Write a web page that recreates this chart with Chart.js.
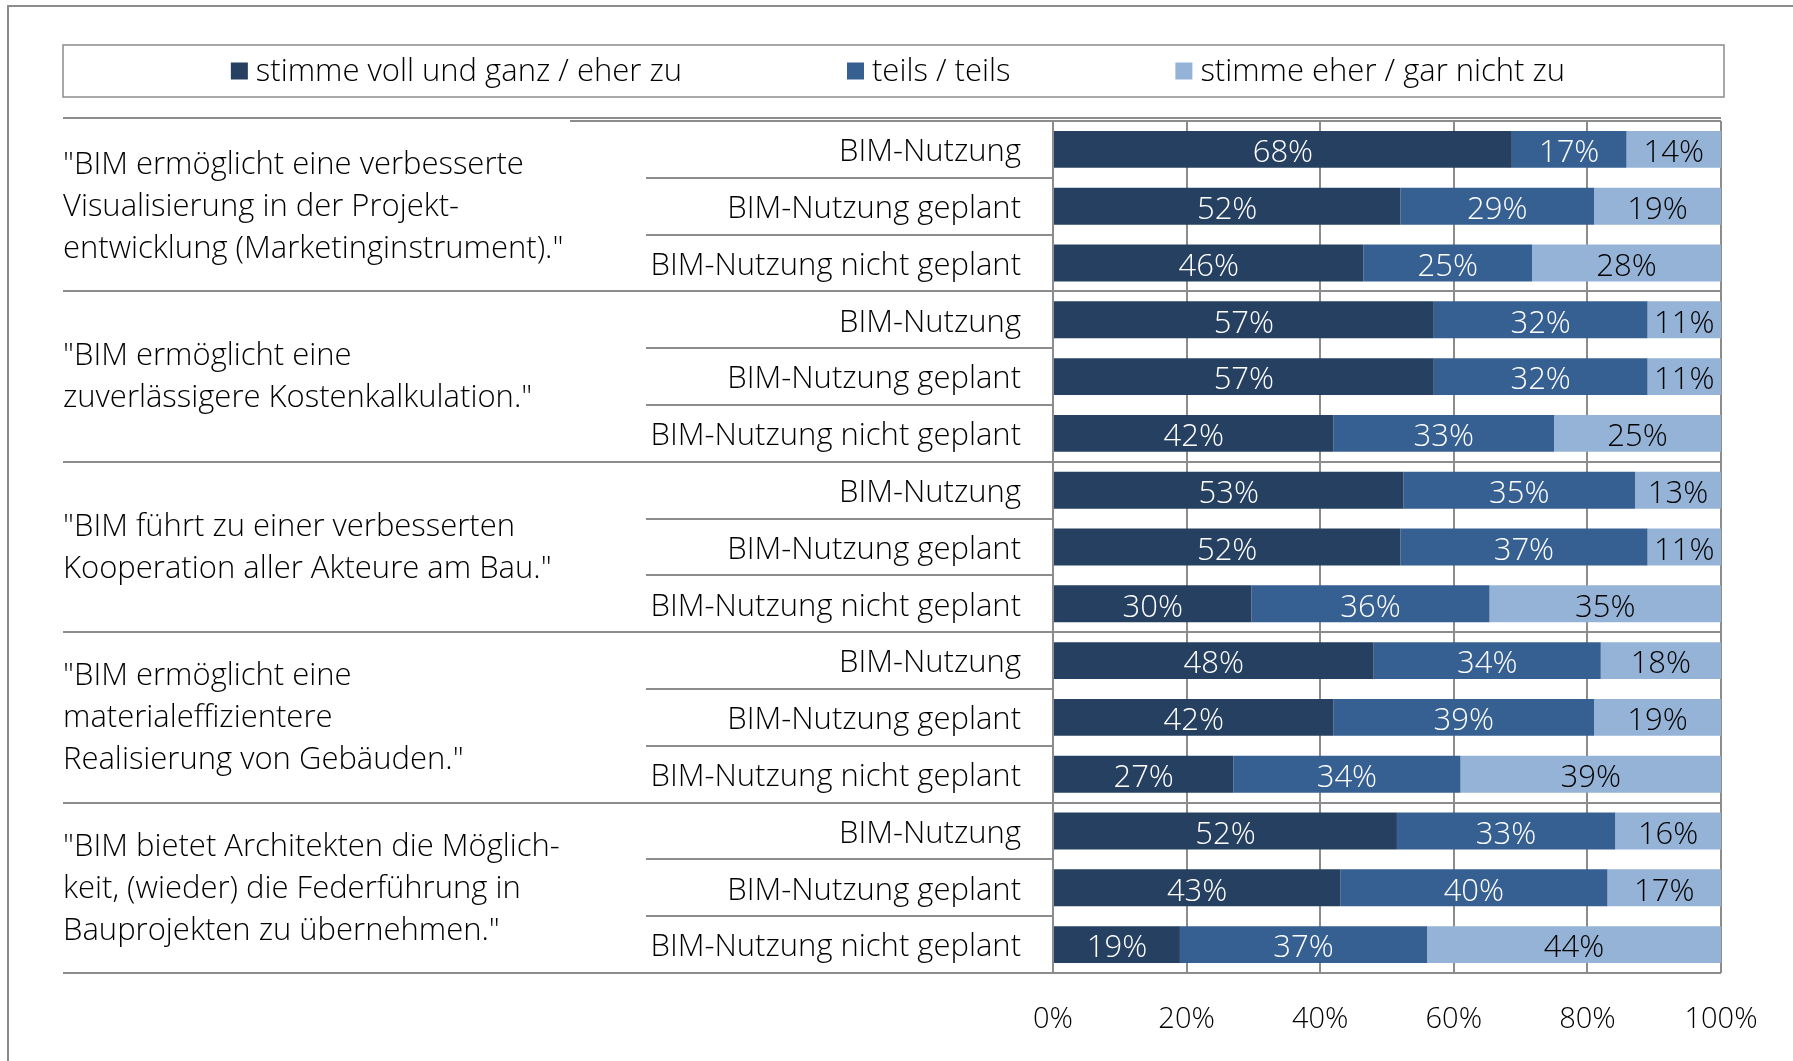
<!DOCTYPE html>
<html>
<head>
<meta charset="utf-8">
<script src="https://cdn.jsdelivr.net/npm/chart.js@4.4.1/dist/chart.umd.min.js"></script>
<style>
  body { margin: 0; background: #fff; }
  canvas { display: block; }
</style>
</head>
<body>
<canvas id="chart-bim" width="1793" height="1061"></canvas>
<script>
// statements (three answer groups each)
var groupLabels = [
  ['"BIM ermöglicht eine verbesserte', 'Visualisierung in der Projekt-', 'entwicklung (Marketinginstrument)."'],
  ['"BIM ermöglicht eine', 'zuverlässigere Kostenkalkulation."'],
  ['"BIM führt zu einer verbesserten', 'Kooperation aller Akteure am Bau."'],
  ['"BIM ermöglicht eine', 'materialeffizientere', 'Realisierung von Gebäuden."'],
  ['"BIM bietet Architekten die Möglich-', 'keit, (wieder) die Federführung in', 'Bauprojekten zu übernehmen."']
];
var subLabels = ['BIM-Nutzung', 'BIM-Nutzung geplant', 'BIM-Nutzung nicht geplant'];
var seriesNames = ['stimme voll und ganz / eher zu', 'teils / teils', 'stimme eher / gar nicht zu'];

var agree    = [68, 52, 46, 57, 57, 42, 53, 52, 30, 48, 42, 27, 52, 43, 19];
var neutral  = [17, 29, 25, 32, 32, 33, 35, 37, 36, 34, 39, 34, 33, 40, 37];
var disagree = [14, 19, 28, 11, 11, 25, 13, 11, 35, 18, 19, 39, 16, 17, 44];

var xTicks = [0, 20, 40, 60, 80, 100];

// --------
var FONT = "'Open Sans', sans-serif";
var TEXT_FONT = '300 31px ' + FONT;
var LINE = '#8c8c8c';
var INK = '#000000';
var colors = ['#264061', '#376092', '#95b3d7'];
var labelColors = ['#ffffff', '#ffffff', '#000000'];

var rowLabels = [];
groupLabels.forEach(function() {
  subLabels.forEach(function(s) { rowLabels.push(s); });
});

// 100% stacked: each row is scaled by its own total
var raw = [agree, neutral, disagree];
var totals = agree.map(function(v, i) { return v + neutral[i] + disagree[i]; });
var datasets = raw.map(function(values, k) {
  return {
    label: seriesNames[k],
    data: values.map(function(v, i) { return v / totals[i] * 100; }),
    backgroundColor: colors[k],
    borderWidth: 0,
    barPercentage: 0.65,
    categoryPercentage: 1
  };
});

var framePlugin = {
  id: 'frame',
  beforeDraw: function(chart) {
    var c = chart.ctx;
    c.save();
    c.strokeStyle = LINE;
    c.lineWidth = 2;
    c.beginPath();
    c.moveTo(8, chart.height);
    c.lineTo(8, 6);
    c.lineTo(chart.width, 6);
    c.stroke();
    c.restore();
  }
};

var legendPlugin = {
  id: 'boxLegend',
  afterDraw: function(chart) {
    var c = chart.ctx;
    var box = { left: 63, top: 45, right: 1724, bottom: 97 };
    c.save();
    c.strokeStyle = LINE;
    c.lineWidth = 1.5;
    c.strokeRect(box.left, box.top, box.right - box.left, box.bottom - box.top);
    c.font = TEXT_FONT;
    c.textBaseline = 'middle';
    var sq = 17, gapText = 8, gapItem = 165;
    var widths = seriesNames.map(function(n) { return sq + gapText + c.measureText(n).width; });
    var total = widths.reduce(function(a, b) { return a + b; }, 0) + gapItem * (widths.length - 1);
    var x = 898 - total / 2;
    var cy = (box.top + box.bottom) / 2;
    seriesNames.forEach(function(n, k) {
      c.fillStyle = colors[k];
      c.fillRect(x, cy - sq / 2, sq, sq);
      c.fillStyle = INK;
      c.fillText(n, x + sq + gapText, cy + 1);
      x += widths[k] + gapItem;
    });
    c.restore();
  }
};

var groupPlugin = {
  id: 'groups',
  afterDraw: function(chart) {
    var c = chart.ctx;
    var area = chart.chartArea;
    var n = rowLabels.length;
    var rowH = (area.bottom - area.top) / n;
    var per = subLabels.length;
    c.save();
    c.strokeStyle = LINE;
    // row separators in the label column
    c.lineWidth = 2;
    for (var i = 1; i < n; i++) {
      if (i % per === 0) continue;
      var y = Math.round(area.top + i * rowH);
      c.beginPath();
      c.moveTo(646, y);
      c.lineTo(area.left, y);
      c.stroke();
    }
    // group separators across the whole width
    for (var g = 0; g <= groupLabels.length; g++) {
      var gy = Math.round(area.top + g * per * rowH);
      if (g === 0) gy -= 3;
      c.beginPath();
      c.moveTo(63, gy);
      c.lineTo(area.right, gy);
      c.stroke();
    }
    // top edge of the plot
    c.beginPath();
    c.moveTo(570, area.top);
    c.lineTo(area.right, area.top);
    c.stroke();
    // statement texts
    c.fillStyle = INK;
    c.font = TEXT_FONT;
    c.textBaseline = 'middle';
    c.textAlign = 'left';
    var lh = 42;
    groupLabels.forEach(function(lines, g) {
      var mid = area.top + (g * per + per / 2) * rowH + 1;
      var y0 = mid - (lines.length - 1) * lh / 2;
      lines.forEach(function(t, j) {
        c.fillText(t, 63, y0 + j * lh);
      });
    });
    c.restore();
  }
};

var valuePlugin = {
  id: 'values',
  afterDatasetsDraw: function(chart) {
    var c = chart.ctx;
    c.save();
    c.font = TEXT_FONT;
    c.textAlign = 'center';
    c.textBaseline = 'middle';
    chart.data.datasets.forEach(function(ds, k) {
      chart.getDatasetMeta(k).data.forEach(function(bar, i) {
        c.fillStyle = labelColors[k];
        c.fillText(raw[k][i] + '%', (bar.x + bar.base) / 2, bar.y + 4);
      });
    });
    c.restore();
  }
};

var ctx = document.getElementById('chart-bim').getContext('2d');
var chart = new Chart(ctx, {
  type: 'bar',
  data: { labels: rowLabels, datasets: datasets },
  options: {
    indexAxis: 'y',
    responsive: false,
    animation: false,
    layout: { padding: { top: 121, right: 72, left: 0, bottom: 0 } },
    scales: {
      x: {
        stacked: true,
        min: 0,
        max: 100,
        afterBuildTicks: function(s) { s.ticks = xTicks.map(function(v) { return { value: v }; }); },
        afterFit: function(s) { s.height = 88; },
        ticks: {
          callback: function(v) { return v + '%'; },
          padding: 29,
          color: INK,
          font: { family: FONT, size: 29, weight: 300 }
        },
        grid: { color: LINE, lineWidth: 2, drawTicks: false },
        border: { display: false }
      },
      y: {
        stacked: true,
        afterFit: function(s) { s.width = 1053; },
        ticks: {
          autoSkip: false,
          padding: 32,
          labelOffset: 3,
          color: INK,
          font: { family: FONT, size: 31, weight: 300 }
        },
        grid: { display: false, drawTicks: false },
        border: { color: LINE, width: 2 }
      }
    },
    plugins: {
      legend: { display: false },
      tooltip: { enabled: false }
    }
  },
  plugins: [framePlugin, groupPlugin, valuePlugin, legendPlugin]
});
</script>
</body>
</html>
